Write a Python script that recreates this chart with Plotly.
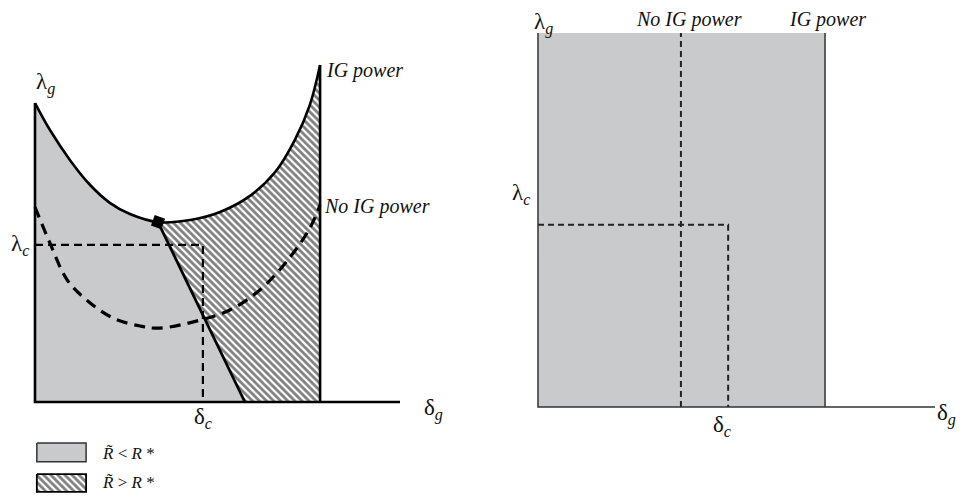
import plotly.graph_objects as go

# ---------------- data (left panel, arbitrary units) ----------------
# "IG power" boundary (solid U-shaped curve)
ig_x = [0.0, 0.41, 0.96, 1.51, 2.05, 2.60, 3.37, 4.25, 5.07, 5.89, 6.58, 7.12, 7.53, 7.81]
ig_y = [8.54, 7.77, 6.91, 6.20, 5.69, 5.37, 5.14, 5.20, 5.43, 5.89, 6.57, 7.49, 8.49, 9.63]
kink_idx = 6  # point where the steep boundary leaves the U-curve

# "No IG power" boundary (dashed U-shaped curve)
nig_x = [0.0, 0.41, 0.88, 1.42, 2.14, 2.88, 3.42, 4.52, 5.34, 6.16, 6.99, 7.53, 7.81]
nig_y = [5.57, 4.54, 3.49, 2.91, 2.40, 2.17, 2.11, 2.34, 2.63, 3.20, 4.14, 4.97, 5.63]

# steep boundary R~ = R*
bound_x = [ig_x[kink_idx], 5.75]
bound_y = [ig_y[kink_idx], 0.0]

delta_c_L = 4.60
lambda_c_L = 4.49
xmax_L = 10.0

# ---------------- data (right panel) ----------------
r_ig_x = 7.23
r_nig_x = 3.60
r_delta_c = 4.79
r_lambda_c = 4.87
r_top = 10.0
r_xmax = 10.0

# ---------------- styling ----------------
W, H = 971, 497
GRAY = "#c9cacc"
SERIF = "Liberation Serif, Times New Roman, serif"
OFF = 8  # page body margin compensation
# pixel mapping of each panel (origin px, units->px)
L = dict(px0=35 - OFF, py0=402 - OFF, sx=36.5, sy=35.0)
R = dict(px0=538 - OFF, py0=407 - OFF, sx=39.7, sy=37.4)

def rng_x(m, p_lo, p_hi):
    return [(p_lo - m["px0"]) / m["sx"], (p_hi - m["px0"]) / m["sx"]]

def rng_y(m):
    return [(m["py0"] - H) / m["sy"], m["py0"] / m["sy"]]

fig = go.Figure()

hatch = dict(shape="\\", fgcolor="black", bgcolor="white", size=5, solidity=0.55)

# hatched region (under right part of U-curve)
fig.add_trace(go.Scatter(x=ig_x[kink_idx:], y=ig_y[kink_idx:], mode="lines",
                         line=dict(width=0, shape="spline"), fill="tozeroy",
                         fillpattern=hatch, fillcolor="white",
                         xaxis="x", yaxis="y", hoverinfo="skip"))
# gray region: left of U-curve and left of steep boundary
fig.add_trace(go.Scatter(x=ig_x[:kink_idx + 1], y=ig_y[:kink_idx + 1], mode="lines",
                         line=dict(width=0, shape="spline"), fill="tozeroy",
                         fillcolor=GRAY, xaxis="x", yaxis="y", hoverinfo="skip"))
fig.add_trace(go.Scatter(x=bound_x, y=bound_y, mode="lines", line=dict(width=0),
                         fill="tozeroy", fillcolor=GRAY, xaxis="x", yaxis="y",
                         hoverinfo="skip"))

# lambda_c / delta_c guide (left)
fig.add_trace(go.Scatter(x=[0, delta_c_L, delta_c_L], y=[lambda_c_L, lambda_c_L, 0],
                         mode="lines", line=dict(color="black", width=2.2, dash="8px,5px"),
                         xaxis="x", yaxis="y"))
# No IG power dashed curve
fig.add_trace(go.Scatter(x=nig_x, y=nig_y, mode="lines",
                         line=dict(color="black", width=3.2, dash="11px,7px", shape="spline"),
                         xaxis="x", yaxis="y"))
# IG power curve
fig.add_trace(go.Scatter(x=ig_x, y=ig_y, mode="lines",
                         line=dict(color="black", width=2.6, shape="spline"),
                         xaxis="x", yaxis="y"))
# steep boundary
fig.add_trace(go.Scatter(x=bound_x, y=bound_y, mode="lines",
                         line=dict(color="black", width=2.8), xaxis="x", yaxis="y"))
# right vertical border
fig.add_trace(go.Scatter(x=[ig_x[-1], ig_x[-1]], y=[0, ig_y[-1]], mode="lines",
                         line=dict(color="black", width=2.6), xaxis="x", yaxis="y"))
# axes (left)
fig.add_trace(go.Scatter(x=[0, 0, xmax_L], y=[ig_y[0], 0, 0], mode="lines",
                         line=dict(color="black", width=2.6), xaxis="x", yaxis="y"))
# kink marker
fig.add_trace(go.Scatter(x=[ig_x[kink_idx]], y=[ig_y[kink_idx]], mode="markers",
                         marker=dict(symbol="square", size=11, color="black", angle=20),
                         xaxis="x", yaxis="y"))

# legend swatches (left panel, below axis)
sw_x = [0.05, 1.40, 1.40, 0.05, 0.05]
fig.add_trace(go.Scatter(x=sw_x, y=[-1.17, -1.17, -1.71, -1.71, -1.17], mode="lines",
                         fill="toself", fillcolor=GRAY, line=dict(color="#333", width=1.5),
                         xaxis="x", yaxis="y"))
fig.add_trace(go.Scatter(x=sw_x, y=[-2.06, -2.06, -2.57, -2.57, -2.06], mode="lines",
                         fill="toself", fillcolor="white", fillpattern=hatch,
                         line=dict(color="black", width=1.8), xaxis="x", yaxis="y"))

# ---------------- right panel ----------------
fig.add_trace(go.Scatter(x=[0, r_ig_x, r_ig_x, 0, 0], y=[0, 0, r_top, r_top, 0], mode="lines",
                         fill="toself", fillcolor=GRAY, line=dict(width=0),
                         xaxis="x2", yaxis="y2", hoverinfo="skip"))
fig.add_trace(go.Scatter(x=[r_nig_x, r_nig_x], y=[0, r_top], mode="lines",
                         line=dict(color="#222", width=2, dash="6px,4px"),
                         xaxis="x2", yaxis="y2"))
fig.add_trace(go.Scatter(x=[0, r_delta_c, r_delta_c], y=[r_lambda_c, r_lambda_c, 0],
                         mode="lines", line=dict(color="#222", width=2, dash="6px,4px"),
                         xaxis="x2", yaxis="y2"))
fig.add_trace(go.Scatter(x=[r_ig_x, r_ig_x], y=[0, r_top], mode="lines",
                         line=dict(color="#333", width=1.5), xaxis="x2", yaxis="y2"))
fig.add_trace(go.Scatter(x=[0, 0, r_xmax], y=[r_top, 0, 0], mode="lines",
                         line=dict(color="#333", width=1.5), xaxis="x2", yaxis="y2"))

# ---------------- text ----------------
def note(text, x, y, ax, xanchor="center", size=23, italic=False):
    t = f"<i>{text}</i>" if italic else text
    fig.add_annotation(text=t, x=x, y=y, xref=ax[0], yref=ax[1], showarrow=False,
                       xanchor=xanchor, yanchor="middle",
                       font=dict(family=SERIF, size=size, color="#111"))

LA, RA = ("x", "y"), ("x2", "y2")
note("λ<sub><i>g</i></sub>", 0.3, 9.1, LA)
note("λ<sub><i>c</i></sub>", -0.12, lambda_c_L, LA, xanchor="right")
note("δ<sub><i>c</i></sub>", delta_c_L, -0.45, LA)
note("δ<sub><i>g</i></sub>", 10.93, -0.2, LA)
note("IG power", ig_x[-1] + 0.1, ig_y[-1] - 0.15, LA, xanchor="left", size=20, italic=True)
note("No IG power", nig_x[-1] + 0.05, nig_y[-1] - 0.05, LA, xanchor="left", size=20, italic=True)
note("<i>R\u0303</i> < <i>R</i> *", 1.78, -1.47, LA, xanchor="left", size=17)
note("<i>R\u0303</i> > <i>R</i> *", 1.78, -2.31, LA, xanchor="left", size=17)

note("λ<sub><i>g</i></sub>", 0.15, 10.25, RA)
note("No IG power", r_nig_x + 0.2, 10.35, RA, size=20, italic=True)
note("IG power", r_ig_x + 0.07, 10.35, RA, size=20, italic=True)
note("λ<sub><i>c</i></sub>", -0.15, 5.7, RA, xanchor="right")
note("δ<sub><i>c</i></sub>", r_delta_c - 0.15, -0.5, RA)
note("δ<sub><i>g</i></sub>", 10.3, -0.2, RA)

fig.update_layout(
    width=W, height=H, autosize=False, showlegend=False,
    margin=dict(l=0, r=0, t=0, b=0),
    paper_bgcolor="white", plot_bgcolor="white",
    xaxis=dict(domain=[0, 0.5], range=rng_x(L, 0, W / 2), visible=False, anchor="y"),
    yaxis=dict(domain=[0, 1], range=rng_y(L), visible=False, anchor="x"),
    xaxis2=dict(domain=[0.5, 1], range=rng_x(R, W / 2, W), visible=False, anchor="y2"),
    yaxis2=dict(domain=[0, 1], range=rng_y(R), visible=False, anchor="x2"),
)

fig.write_html("out.html")
